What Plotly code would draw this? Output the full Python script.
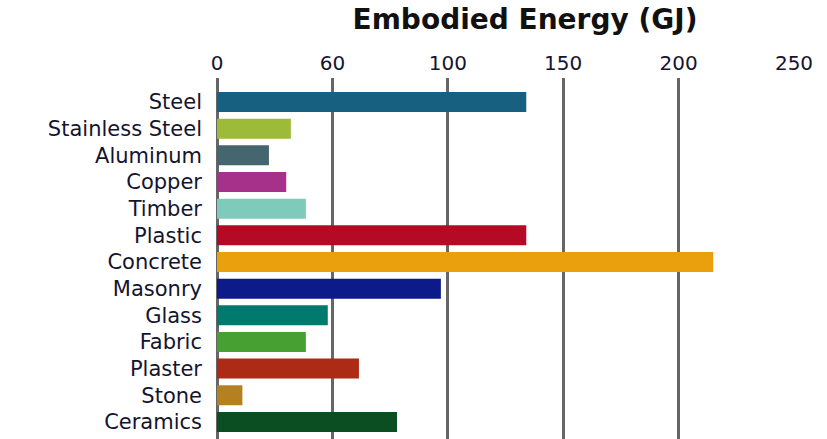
import plotly.graph_objects as go

materials = ["Steel", "Stainless Steel", "Aluminum", "Copper", "Timber", "Plastic",
             "Concrete", "Masonry", "Glass", "Fabric", "Plaster", "Stone", "Ceramics"]
energy_gj = [134, 32, 22.5, 30, 38.5, 134, 215, 97, 48, 38.5, 61.5, 11, 78]
bar_colors = ["#17607f", "#9dbb38", "#45656f", "#a5318a", "#7ecabb", "#b50a24",
              "#eaa00c", "#0d1a8a", "#007a6f", "#46a032", "#ad2b14", "#b5801f", "#0b4e21"]
tick_values = [0, 50, 100, 150, 200, 250]
tick_labels = ["0", "60", "100", "150", "200", "250"]

fig = go.Figure(go.Bar(
    x=energy_gj, y=materials, orientation="h",
    marker=dict(color=bar_colors, line=dict(width=0)),
))

n = len(materials)
fig.update_layout(
    width=827, height=439,
    margin=dict(l=217, r=33, t=78, b=0),
    paper_bgcolor="white", plot_bgcolor="white",
    bargap=0.25, showlegend=False,
    font=dict(family="DejaVu Sans", color="#14142e"),
    title=dict(text="<b>Embodied Energy (GJ)</b>", x=525/827, xref="container",
               xanchor="center", y=1-19/439, yref="container", yanchor="middle",
               font=dict(family="DejaVu Sans", size=28, color="#111111")),
    xaxis=dict(side="top", range=[0, 250], tickvals=tick_values, ticktext=tick_labels,
               showgrid=True, gridcolor="#666666", gridwidth=3,
               zeroline=True, zerolinecolor="#666666", zerolinewidth=3,
               showline=False, ticks="", ticklabelstandoff=3,
               tickfont=dict(family="DejaVu Sans", size=20, color="#14142e")),
    yaxis=dict(categoryorder="array", categoryarray=materials,
               range=[n - 1 + 0.64, -0.9], showgrid=False, zeroline=False,
               ticks="", ticklabelstandoff=14,
               tickfont=dict(family="DejaVu Sans", size=21, color="#14142e")),
)

fig.write_html("out.html")
